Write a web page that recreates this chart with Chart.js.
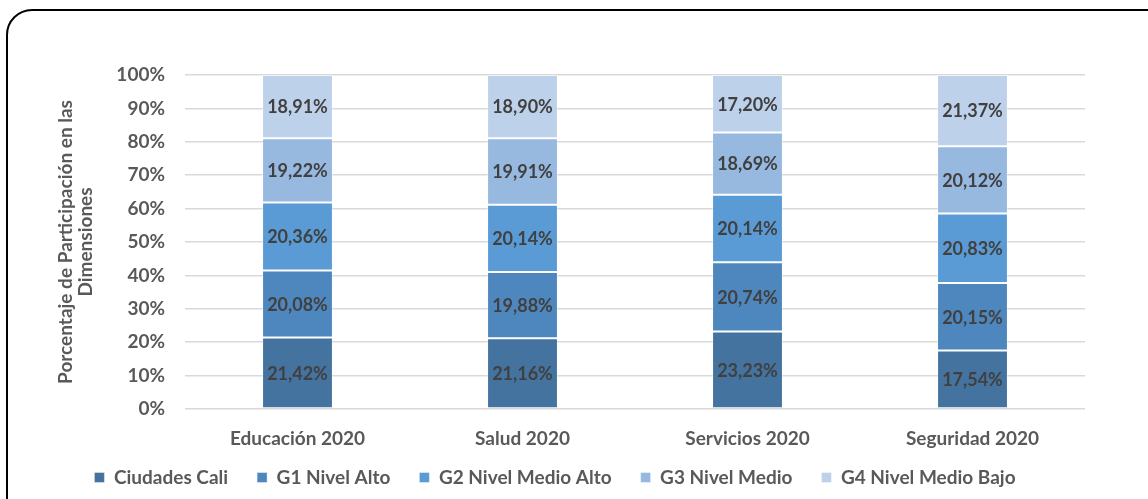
<!DOCTYPE html>
<html>
<head>
<meta charset="utf-8">
<script src="https://cdn.jsdelivr.net/npm/chart.js@4"></script>
<style>
    html, body { margin: 0; padding: 0; background: #fff; overflow: hidden; }
    #wrap { position: relative; width: 1148px; height: 499px; }
    #frame {
        position: absolute; left: 6px; top: 9px; width: 1170px; height: 530px;
        border: 2px solid #000; border-radius: 26px; box-sizing: border-box;
    }
    canvas { position: absolute; left: 0; top: 0; }
</style>
</head>
<body>
<div id="wrap">
    <div id="frame"></div>
    <canvas id="chart" width="1148" height="499"></canvas>
</div>
<script>
var categories = ['Educación 2020', 'Salud 2020', 'Servicios 2020', 'Seguridad 2020'];
var seriesNames = ['Ciudades Cali', 'G1 Nivel Alto', 'G2 Nivel Medio Alto', 'G3 Nivel Medio', 'G4 Nivel Medio Bajo'];
var ciudadesCali = [21.42, 21.16, 23.23, 17.54];
var g1NivelAlto = [20.08, 19.88, 20.74, 20.15];
var g2NivelMedioAlto = [20.36, 20.14, 20.14, 20.83];
var g3NivelMedio = [19.22, 19.91, 18.69, 20.12];
var g4NivelMedioBajo = [18.91, 18.90, 17.20, 21.37];
var yTicks = [0, 10, 20, 30, 40, 50, 60, 70, 80, 90, 100];
var yTitle = ['Porcentaje de Participación en las', 'Dimensiones'];

var colors = ['#44739F', '#4E87BD', '#5B9BD5', '#97B9E0', '#BED1EB'];
var allSeries = [ciudadesCali, g1NivelAlto, g2NivelMedioAlto, g3NivelMedio, g4NivelMedioBajo];
var fontFamily = 'Lato, "Open Sans", sans-serif';

// labels in the middle of each segment, comma decimals like the original
var barLabels = {
    id: 'barLabels',
    afterDatasetsDraw: function(chart) {
        var ctx = chart.ctx;
        ctx.save();
        ctx.font = 'bold 18px ' + fontFamily;
        ctx.fillStyle = '#404040';
        ctx.textAlign = 'center';
        ctx.textBaseline = 'middle';
        chart.data.datasets.forEach(function(ds, i) {
            var meta = chart.getDatasetMeta(i);
            meta.data.forEach(function(bar, j) {
                var txt = ds.data[j].toFixed(2).replace('.', ',') + '%';
                ctx.fillText(txt, bar.x, (bar.y + bar.base) / 2 + 1);
            });
        });
        ctx.restore();
    }
};

// the legend in the original sits a bit left of the plot centre
var legendShift = {
    id: 'legendShift',
    afterUpdate: function(chart) {
        chart.legend.left -= 15;
        chart.legend.right -= 15;
    }
};

var datasets = [];
for (var i = 0; i < allSeries.length; i++) {
    datasets.push({
        label: seriesNames[i],
        data: allSeries[i],
        backgroundColor: colors[i],
        borderColor: 'rgba(255,255,255,0.4)',
        borderWidth: 1,
        borderSkipped: false,
        categoryPercentage: 1,
        barPercentage: 0.315
    });
}

var ctx = document.getElementById('chart').getContext('2d');
var myChart = new Chart(ctx, {
    type: 'bar',
    data: {
        labels: categories,
        datasets: datasets
    },
    options: {
        responsive: false,
        animation: false,
        layout: {
            padding: { left: 55, right: 63, top: 75, bottom: 2 }
        },
        scales: {
            x: {
                stacked: true,
                grid: { display: false },
                border: { display: false },
                ticks: {
                    color: '#595959',
                    padding: 10,
                    font: { family: fontFamily, size: 19, weight: 'bold' }
                },
                afterFit: function(scale) {
                    scale.height = 30;
                    // labels hang below the short axis box, so don't clip them
                    scale._computeLabelArea = function() { return null; };
                }
            },
            y: {
                stacked: true,
                min: 0,
                max: 100,
                border: { display: false },
                grid: { color: '#D9D9D9', lineWidth: 1.5, drawTicks: false },
                afterBuildTicks: function(scale) {
                    scale.ticks = yTicks.map(function(v) { return { value: v }; });
                },
                ticks: {
                    color: '#595959',
                    padding: 20,
                    font: { family: fontFamily, size: 19, weight: 'bold' },
                    callback: function(v) { return v + '%'; }
                },
                title: {
                    display: true,
                    text: yTitle,
                    color: '#595959',
                    padding: { top: 0, bottom: 10 },
                    font: { family: fontFamily, size: 19, weight: 'bold', lineHeight: 1.1 }
                },
                afterFit: function(scale) { scale.width = 130; }
            }
        },
        plugins: {
            legend: {
                position: 'bottom',
                labels: {
                    color: '#595959',
                    boxWidth: 10,
                    boxHeight: 10,
                    padding: 29,
                    font: { family: fontFamily, size: 19, weight: 'bold' }
                }
            },
            tooltip: { enabled: false }
        }
    },
    plugins: [barLabels, legendShift]
});
</script>
</body>
</html>
